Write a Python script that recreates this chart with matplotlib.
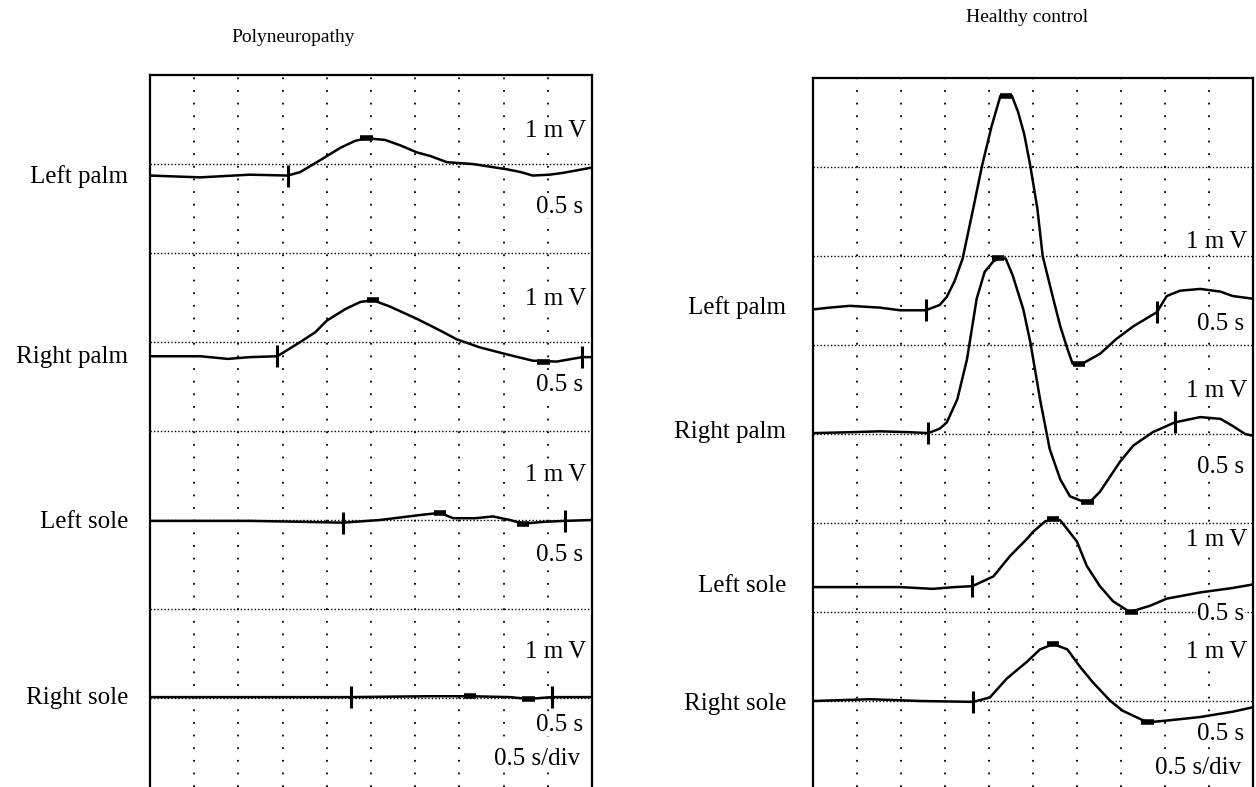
"""Skin sympathetic response traces: polyneuropathy vs healthy control.

Values read off the oscilloscope photo. Time in seconds (0.5 s/div),
vertical position in screen divisions (0 = bottom, 8 = top of the screen).
"""

import matplotlib
matplotlib.use("Agg")
import matplotlib.pyplot as plt

FONT = "Liberation Serif"
SITES = ["Left palm", "Right palm", "Left sole", "Right sole"]
TITLES = ["Polyneuropathy", "Healthy control"]

# ---- polyneuropathy traces (t [s], y [div]) --------------------------------
PN_T = [
    [0.00, 0.57, 1.13, 1.56, 1.70, 1.92, 2.15, 2.32, 2.45, 2.66, 2.83, 3.02,
     3.17, 3.36, 3.65, 4.04, 4.19, 4.33, 4.52, 4.67, 5.00],
    [0.00, 0.57, 0.88, 1.13, 1.44, 1.70, 1.87, 2.00, 2.21, 2.38, 2.52, 2.71,
     3.02, 3.28, 3.47, 3.73, 4.04, 4.33, 4.60, 4.89, 5.00],
    [0.00, 1.13, 1.70, 2.18, 2.60, 3.09, 3.28, 3.43, 3.68, 3.88, 4.07, 4.22,
     4.47, 4.69, 5.00],
    [0.00, 1.70, 2.27, 3.17, 3.62, 4.07, 4.28, 4.55, 5.00],
]
PN_Y = [
    [6.87, 6.85, 6.88, 6.87, 6.91, 7.04, 7.18, 7.26, 7.29, 7.27, 7.21, 7.13,
     7.09, 7.02, 7.00, 6.94, 6.91, 6.87, 6.88, 6.90, 6.96],
    [4.84, 4.84, 4.81, 4.83, 4.84, 5.00, 5.11, 5.24, 5.37, 5.45, 5.47, 5.40,
     5.26, 5.13, 5.03, 4.94, 4.86, 4.79, 4.78, 4.83, 4.83],
    [2.99, 2.99, 2.98, 2.97, 3.00, 3.06, 3.08, 3.02, 3.02, 3.04, 3.00, 2.96,
     2.98, 2.99, 3.00],
    [1.01, 1.01, 1.01, 1.02, 1.02, 1.01, 0.99, 1.01, 1.01],
]
PN_STIM = [[1.56], [1.44, 4.89], [2.18, 4.69], [2.27, 4.55]]
PN_CURSOR = [[(2.45, 7.29)], [(2.52, 5.47), (4.45, 4.78)],
             [(3.28, 3.08), (4.22, 2.96)], [(3.62, 1.02), (4.28, 0.99)]]

# ---- healthy control traces -------------------------------------------------
HC_T = [
    [0.00, 0.19, 0.42, 0.76, 0.99, 1.28, 1.44, 1.52, 1.61, 1.70, 1.82, 1.92,
     2.03, 2.13, 2.26, 2.33, 2.40, 2.47, 2.55, 2.61, 2.73, 2.81, 2.89, 2.95,
     3.06, 3.26, 3.45, 3.64, 3.91, 3.97, 4.02, 4.17, 4.40, 4.63, 4.77, 5.00],
    [0.00, 0.42, 0.76, 1.10, 1.31, 1.44, 1.52, 1.64, 1.75, 1.86, 1.95, 2.05,
     2.13, 2.19, 2.27, 2.39, 2.47, 2.58, 2.69, 2.81, 2.92, 3.07, 3.15, 3.26,
     3.49, 3.64, 3.86, 4.11, 4.40, 4.63, 4.77, 4.91, 5.00],
    [0.00, 0.53, 0.99, 1.36, 1.61, 1.81, 2.05, 2.24, 2.43, 2.50, 2.64, 2.73,
     2.81, 2.89, 3.00, 3.11, 3.26, 3.41, 3.60, 3.83, 4.02, 4.40, 4.77, 5.00],
    [0.00, 0.65, 1.22, 1.82, 2.01, 2.20, 2.43, 2.58, 2.73, 2.89, 3.03, 3.18,
     3.38, 3.52, 3.80, 4.02, 4.40, 4.77, 5.00],
]
HC_Y = [
    [5.40, 5.42, 5.44, 5.42, 5.39, 5.39, 5.45, 5.54, 5.72, 5.97, 6.53, 7.01,
     7.46, 7.80, 7.80, 7.62, 7.37, 7.01, 6.53, 6.00, 5.52, 5.21, 4.96, 4.79,
     4.79, 4.90, 5.07, 5.21, 5.37, 5.47, 5.55, 5.61, 5.63, 5.60, 5.55, 5.52],
    [4.01, 4.02, 4.03, 4.02, 4.01, 4.06, 4.13, 4.39, 4.84, 5.52, 5.82, 5.94,
     5.98, 5.97, 5.78, 5.40, 5.03, 4.39, 3.83, 3.49, 3.30, 3.24, 3.24, 3.35,
     3.69, 3.87, 4.02, 4.13, 4.19, 4.17, 4.09, 4.00, 3.98],
    [2.28, 2.28, 2.28, 2.26, 2.28, 2.29, 2.40, 2.63, 2.82, 2.90, 3.02, 3.04,
     3.03, 2.93, 2.79, 2.52, 2.29, 2.12, 2.00, 2.07, 2.15, 2.22, 2.27, 2.31],
    [1.00, 1.02, 1.00, 0.99, 1.04, 1.25, 1.44, 1.58, 1.64, 1.58, 1.39, 1.21,
     1.00, 0.89, 0.76, 0.78, 0.82, 0.88, 0.93],
]
HC_STIM = [[1.28, 3.91], [1.31, 4.11], [1.81], [1.82]]
HC_CURSOR = [[(2.19, 7.80), (3.02, 4.79)], [(2.10, 5.98), (3.12, 3.24)],
             [(2.73, 3.04), (3.62, 2.00)], [(2.73, 1.64), (3.80, 0.76)]]

# scale annotations (y in div): "1 mV", "0.5 s" per row
PN_MV_Y = [7.37, 5.48, 3.51, 1.52]
PN_S_Y = [6.52, 4.52, 2.61, 0.70]
HC_MV_Y = [6.16, 4.48, 2.81, 1.55]
HC_S_Y = [5.24, 3.63, 1.98, 0.63]


def scope(ax, ybottom):
    ax.set_xlim(0, 5)
    ax.set_ylim(ybottom, 8)
    for k in range(1, 10):
        ax.axvline(k * 0.5, color="black", lw=1.3, ls=(0, (1, 6)), zorder=1)
    for k in range(1, 8):
        ax.axhline(k, color="black", lw=1.0, ls=(0, (1, 1.5)), zorder=1)
    for side in ("left", "top", "right"):
        ax.spines[side].set_linewidth(1.6)
    ax.spines["bottom"].set_visible(False)
    ax.set_xticks([]); ax.set_yticks([])


def traces(ax, ts, ys, stims, cursors, mv_y, s_y, label_x, label_y, fig):
    box = dict(facecolor="white", edgecolor="none", pad=0.5)
    for i in range(4):
        ax.plot(ts[i], ys[i], color="black", lw=1.8, zorder=3)
        for t in stims[i]:
            j = min(range(len(ts[i])), key=lambda k: abs(ts[i][k] - t))
            ax.plot([t], [ys[i][j]], marker="|", ms=16, mew=2.2, color="black", zorder=4)
        for t, y in cursors[i]:
            ax.plot([t - 0.07, t + 0.07], [y, y], color="black", lw=4,
                    solid_capstyle="butt", zorder=4)
        ax.text(4.93, mv_y[i], "1 m\u2009V", ha="right", va="center", fontsize=18,
                family=FONT, bbox=box, zorder=5)
        ax.text(4.9, s_y[i], "0.5 s", ha="right", va="center", fontsize=18,
                family=FONT, bbox=box, zorder=5)
        fig.text(label_x, label_y[i], SITES[i], ha="right", va="center",
                 fontsize=18, family=FONT)
    ax.text(4.87, s_y[3] - 0.38, "0.5 s/div", ha="right", va="center", fontsize=18,
            family=FONT, bbox=box, zorder=5)


W, H = 1256, 787
fig = plt.figure(figsize=(W / 100, H / 100), dpi=100)

ax1 = fig.add_axes([150 / W, 0, 442 / W, (H - 75) / H])
scope(ax1, 8 - (H - 75) / 89)
traces(ax1, PN_T, PN_Y, PN_STIM, PN_CURSOR, PN_MV_Y, PN_S_Y,
       128 / W, [1 - 177 / H, 1 - 357 / H, 1 - 522 / H, 1 - 698 / H], fig)

ax2 = fig.add_axes([813 / W, 0, 440 / W, (H - 78) / H])
scope(ax2, 8 - (H - 78) / 89)
traces(ax2, HC_T, HC_Y, HC_STIM, HC_CURSOR, HC_MV_Y, HC_S_Y,
       786 / W, [1 - 308 / H, 1 - 432 / H, 1 - 586 / H, 1 - 704 / H], fig)

fig.text(293 / W, 1 - 38 / H, TITLES[0], ha="center", va="center", fontsize=14, family=FONT)
fig.text(1027 / W, 1 - 17 / H, TITLES[1], ha="center", va="center", fontsize=14, family=FONT)

fig.savefig("out.png", dpi=100)
